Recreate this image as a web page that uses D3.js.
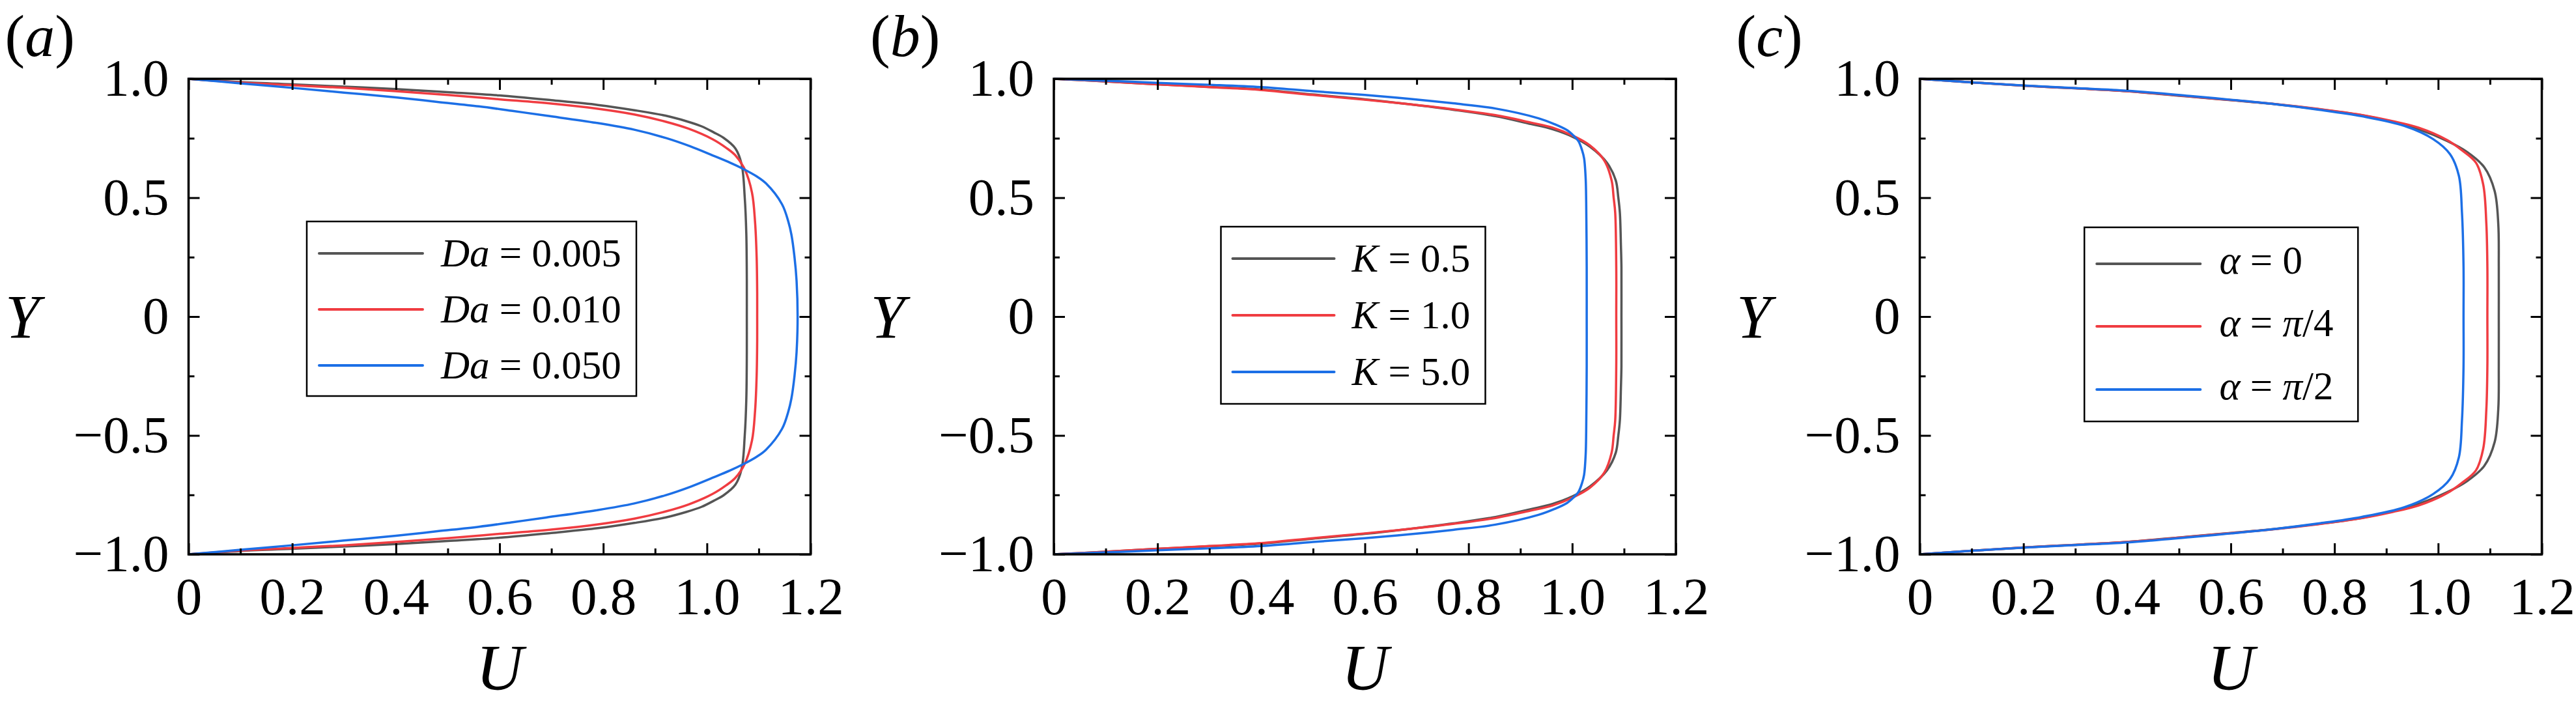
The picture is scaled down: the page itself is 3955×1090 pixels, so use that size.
<!DOCTYPE html>
<html>
<head>
<meta charset="utf-8">
<title>Velocity profiles</title>
<script src="https://d3js.org/d3.v7.min.js"></script>
<style>
  body { margin:0; background:#fff; }
  svg { display:block; }
  svg text { font-family:"Liberation Serif","Times New Roman",Times,serif; fill:#000; }
</style>
</head>
<body>
<div id="chart"></div>
<script>
// ---- data (U along the profile, Y from -1 to 1) ----
var xTicks = [0, 0.2, 0.4, 0.6, 0.8, 1.0, 1.2];
var xTickLabels = ["0", "0.2", "0.4", "0.6", "0.8", "1.0", "1.2"];
var xMinor = [0.1, 0.3, 0.5, 0.7, 0.9, 1.1];
var yTicks = [-1, -0.5, 0, 0.5, 1];
var yTickLabels = ["\u22121.0", "\u22120.5", "0", "0.5", "1.0"];
var yMinor = [-0.75, -0.25, 0.25, 0.75];

var seriesColors = ["#555555", "#f03c41", "#1c6fe6"];

// (a) Darcy number
var daLabels = ["0.005", "0.010", "0.050"];
var a005Y = [-1.000,-0.986,-0.977,-0.967,-0.957,-0.944,-0.930,-0.910,-0.890,-0.868,-0.845,-0.822,-0.800,-0.775,-0.752,-0.707,-0.640,-0.500,-0.350,-0.150,0,0.150,0.350,0.500,0.640,0.707,0.752,0.775,0.800,0.822,0.845,0.868,0.890,0.910,0.930,0.944,0.957,0.967,0.977,0.986,1.000];
var a005U = [0,0.100,0.200,0.300,0.400,0.500,0.600,0.700,0.790,0.860,0.920,0.960,0.990,1.013,1.032,1.055,1.067,1.073,1.076,1.077,1.077,1.077,1.076,1.073,1.067,1.055,1.032,1.013,0.990,0.960,0.920,0.860,0.790,0.700,0.600,0.500,0.400,0.300,0.200,0.100,0];
var a010Y = [-1.000,-0.984,-0.973,-0.962,-0.948,-0.932,-0.914,-0.896,-0.874,-0.850,-0.820,-0.790,-0.746,-0.710,-0.678,-0.619,-0.521,-0.394,-0.247,-0.100,0,0.100,0.247,0.394,0.521,0.619,0.678,0.710,0.746,0.790,0.820,0.850,0.874,0.896,0.914,0.932,0.948,0.962,0.973,0.984,1.000];
var a010U = [0,0.100,0.200,0.300,0.400,0.500,0.600,0.700,0.790,0.860,0.920,0.965,1.011,1.037,1.055,1.073,1.087,1.093,1.096,1.097,1.097,1.097,1.096,1.093,1.087,1.073,1.055,1.037,1.011,0.965,0.920,0.860,0.790,0.700,0.600,0.500,0.400,0.300,0.200,0.100,0];
var a050Y = [-1.000,-0.981,-0.962,-0.942,-0.922,-0.903,-0.884,-0.865,-0.845,-0.815,-0.786,-0.751,-0.716,-0.678,-0.647,-0.620,-0.591,-0.560,-0.472,-0.400,-0.345,-0.250,-0.150,0,0.150,0.250,0.345,0.400,0.472,0.560,0.591,0.620,0.647,0.678,0.716,0.751,0.786,0.815,0.845,0.865,0.884,0.903,0.922,0.942,0.962,0.981,1.000];
var a050U = [0,0.100,0.200,0.300,0.400,0.480,0.560,0.625,0.690,0.786,0.860,0.921,0.968,1.011,1.045,1.071,1.095,1.114,1.145,1.157,1.163,1.169,1.173,1.175,1.173,1.169,1.163,1.157,1.145,1.114,1.095,1.071,1.045,1.011,0.968,0.921,0.860,0.786,0.690,0.625,0.560,0.480,0.400,0.300,0.200,0.100,0];

// (b) K
var kLabels = ["0.5", "1.0", "5.0"];
var b05Y = [-1.000,-0.989,-0.977,-0.966,-0.955,-0.934,-0.914,-0.893,-0.870,-0.843,-0.810,-0.788,-0.756,-0.715,-0.647,-0.573,-0.500,-0.436,-0.300,-0.208,0,0.208,0.300,0.436,0.500,0.573,0.647,0.715,0.756,0.788,0.810,0.843,0.870,0.893,0.914,0.934,0.955,0.966,0.977,0.989,1.000];
var b05U = [0,0.100,0.200,0.300,0.400,0.500,0.600,0.686,0.770,0.852,0.920,0.962,1.001,1.034,1.067,1.084,1.089,1.092,1.094,1.095,1.095,1.095,1.094,1.092,1.089,1.084,1.067,1.034,1.001,0.962,0.920,0.852,0.770,0.686,0.600,0.500,0.400,0.300,0.200,0.100,0];
var b10Y = [-1.000,-0.989,-0.977,-0.965,-0.953,-0.932,-0.912,-0.893,-0.872,-0.847,-0.816,-0.795,-0.761,-0.720,-0.656,-0.573,-0.500,-0.436,-0.208,0,0.208,0.436,0.500,0.573,0.656,0.720,0.761,0.795,0.816,0.847,0.872,0.893,0.912,0.932,0.953,0.965,0.977,0.989,1.000];
var b10U = [0,0.100,0.200,0.300,0.400,0.500,0.600,0.686,0.770,0.852,0.920,0.962,1.001,1.034,1.062,1.076,1.080,1.083,1.085,1.085,1.085,1.083,1.080,1.076,1.062,1.034,1.001,0.962,0.920,0.852,0.770,0.686,0.600,0.500,0.400,0.300,0.200,0.100,0];
var b50Y = [-1.000,-0.992,-0.983,-0.975,-0.965,-0.948,-0.932,-0.916,-0.897,-0.875,-0.834,-0.810,-0.784,-0.760,-0.738,-0.700,-0.665,-0.580,-0.482,-0.208,0,0.208,0.482,0.580,0.665,0.700,0.738,0.760,0.784,0.810,0.834,0.875,0.897,0.916,0.932,0.948,0.965,0.975,0.983,0.992,1.000];
var b50U = [0,0.100,0.200,0.300,0.400,0.500,0.600,0.686,0.770,0.852,0.935,0.965,0.990,1.003,1.012,1.019,1.023,1.026,1.027,1.028,1.028,1.028,1.027,1.026,1.023,1.019,1.012,1.003,0.990,0.965,0.935,0.852,0.770,0.686,0.600,0.500,0.400,0.300,0.200,0.100,0];

// (c) alpha
var alphaLabels = ["0", "\u03c0/4", "\u03c0/2"];
var c0Y = [-1.000,-0.985,-0.971,-0.960,-0.948,-0.925,-0.910,-0.893,-0.872,-0.847,-0.820,-0.788,-0.738,-0.692,-0.628,-0.528,-0.391,-0.208,0,0.208,0.391,0.528,0.628,0.692,0.738,0.788,0.820,0.847,0.872,0.893,0.910,0.925,0.948,0.960,0.971,0.985,1.000];
var c0U = [0,0.100,0.200,0.300,0.400,0.520,0.600,0.686,0.770,0.852,0.910,0.962,1.018,1.056,1.089,1.109,1.116,1.117,1.117,1.117,1.116,1.109,1.089,1.056,1.018,0.962,0.910,0.852,0.770,0.686,0.600,0.520,0.400,0.300,0.200,0.100,0];
var c4Y = [-1.000,-0.985,-0.971,-0.960,-0.948,-0.926,-0.911,-0.894,-0.873,-0.848,-0.822,-0.795,-0.742,-0.701,-0.647,-0.555,-0.391,-0.208,0,0.208,0.391,0.555,0.647,0.701,0.742,0.795,0.822,0.848,0.873,0.894,0.911,0.926,0.948,0.960,0.971,0.985,1.000];
var c4U = [0,0.100,0.200,0.300,0.400,0.520,0.600,0.686,0.770,0.852,0.912,0.962,1.018,1.045,1.073,1.087,1.093,1.095,1.095,1.095,1.093,1.087,1.073,1.045,1.018,0.962,0.912,0.852,0.770,0.686,0.600,0.520,0.400,0.300,0.200,0.100,0];
var c2Y = [-1.000,-0.985,-0.972,-0.961,-0.950,-0.928,-0.912,-0.893,-0.870,-0.843,-0.802,-0.747,-0.683,-0.592,-0.436,-0.208,0,0.208,0.436,0.592,0.683,0.747,0.802,0.843,0.870,0.893,0.912,0.928,0.950,0.961,0.972,0.985,1.000];
var c2U = [0,0.100,0.200,0.300,0.400,0.520,0.600,0.686,0.770,0.852,0.935,0.990,1.023,1.040,1.046,1.049,1.049,1.049,1.046,1.040,1.023,0.990,0.935,0.852,0.770,0.686,0.600,0.520,0.400,0.300,0.200,0.100,0];

// ---- layout ----
var W = 3955, H = 1090;
var plotW = 955, plotTop = 121, plotBottom = 851;
var fontTick = 81, fontLegend = 61;
var serif = '"Liberation Serif","Times New Roman",Times,serif';

var panels = [
  { left: 289.5, tag: "a", sym: "Da", labels: daLabels,
    series: [[a005U, a005Y], [a010U, a010Y], [a050U, a050Y]],
    leg: { x0: 181.5, x1: 687.5, y0: 340, y1: 608, lx0: 200.5, lx1: 359.5, tx: 387.5, rows: [389, 475, 561], dy: 20 } },
  { left: 1618, tag: "b", sym: "K", labels: kLabels,
    series: [[b05U, b05Y], [b10U, b10Y], [b50U, b50Y]],
    leg: { x0: 256.5, x1: 662.5, y0: 348, y1: 620, lx0: 274.5, lx1: 430.5, tx: 457.5, rows: [397, 484, 571], dy: 20 } },
  { left: 2947.5, tag: "c", sym: "\u03b1", labels: alphaLabels,
    series: [[c0U, c0Y], [c4U, c4Y], [c2U, c2Y]],
    leg: { x0: 252.7, x1: 672.8, y0: 349, y1: 647, lx0: 271.7, lx1: 430.8, tx: 460, rows: [405, 501, 598], dy: 15 } }
];

var svg = d3.select("#chart").append("svg")
    .attr("width", W)
    .attr("height", H);

svg.append("rect").attr("width", W).attr("height", H).attr("fill", "#fff");

function styleAxis(sel, withText) {
  sel.attr("font-size", null).attr("font-family", null);
  sel.select(".domain").remove();
  sel.selectAll(".tick line").attr("stroke", "#000").attr("stroke-width", 3);
  if (withText) {
    sel.selectAll(".tick text")
       .attr("fill", "#000")
       .style("font-family", serif)
       .style("font-size", fontTick + "px");
  }
}

panels.forEach(function(p) {
  var L = p.left, R = L + plotW;
  var x = d3.scaleLinear().domain([0, 1.2]).range([L, R]);
  var y = d3.scaleLinear().domain([-1, 1]).range([plotBottom, plotTop]);
  var g = svg.append("g");

  // curves
  var line = d3.line()
      .x(function(d) { return x(d[0]); })
      .y(function(d) { return y(d[1]); })
      .curve(d3.curveCatmullRom.alpha(0.5));

  p.series.forEach(function(s, i) {
    var pts = s[0].map(function(u, k) { return [u, s[1][k]]; });
    g.append("path")
      .attr("d", line(pts))
      .attr("fill", "none")
      .attr("stroke", seriesColors[i])
      .attr("stroke-width", 3.5)
      .attr("stroke-linejoin", "round");
  });

  // axes, ticks pointing inward on all four sides
  g.append("g").attr("transform", "translate(0," + plotBottom + ")")
    .call(d3.axisBottom(x).tickValues(xTicks).tickSize(-17).tickPadding(34.5)
      .tickFormat(function(d, i) { return xTickLabels[i]; }))
    .call(styleAxis, true);
  g.append("g").attr("transform", "translate(0," + plotBottom + ")")
    .call(d3.axisBottom(x).tickValues(xMinor).tickSize(-9).tickFormat(""))
    .call(styleAxis, false);
  g.append("g").attr("transform", "translate(0," + plotTop + ")")
    .call(d3.axisTop(x).tickValues(xTicks).tickSize(-17).tickFormat(""))
    .call(styleAxis, false);
  g.append("g").attr("transform", "translate(0," + plotTop + ")")
    .call(d3.axisTop(x).tickValues(xMinor).tickSize(-9).tickFormat(""))
    .call(styleAxis, false);

  g.append("g").attr("transform", "translate(" + L + ",0)")
    .call(d3.axisLeft(y).tickValues(yTicks).tickSize(-17).tickPadding(30)
      .tickFormat(function(d, i) { return yTickLabels[i]; }))
    .call(styleAxis, true);
  g.append("g").attr("transform", "translate(" + L + ",0)")
    .call(d3.axisLeft(y).tickValues(yMinor).tickSize(-9).tickFormat(""))
    .call(styleAxis, false);
  g.append("g").attr("transform", "translate(" + R + ",0)")
    .call(d3.axisRight(y).tickValues(yTicks).tickSize(-17).tickFormat(""))
    .call(styleAxis, false);
  g.append("g").attr("transform", "translate(" + R + ",0)")
    .call(d3.axisRight(y).tickValues(yMinor).tickSize(-9).tickFormat(""))
    .call(styleAxis, false);

  // frame
  g.append("rect")
    .attr("x", L).attr("y", plotTop)
    .attr("width", plotW).attr("height", plotBottom - plotTop)
    .attr("fill", "none").attr("stroke", "#000").attr("stroke-width", 3.5);

  // panel tag
  var tag = g.append("text").attr("x", L - 282).attr("y", 86)
    .style("font-family", serif).style("font-size", "92px");
  tag.append("tspan").text("(");
  tag.append("tspan").attr("font-style", "italic").text(p.tag);
  tag.append("tspan").text(")");

  // axis titles
  g.append("text").attr("x", L - 255).attr("y", 519)
    .attr("text-anchor", "middle").attr("font-style", "italic")
    .style("font-family", serif).style("font-size", "95px").text("Y");
  g.append("text").attr("x", (L + R) / 2).attr("y", 1058)
    .attr("text-anchor", "middle").attr("font-style", "italic")
    .style("font-family", serif).style("font-size", "100px").text("U");

  // legend
  var lg = p.leg;
  g.append("rect")
    .attr("x", L + lg.x0).attr("y", lg.y0)
    .attr("width", lg.x1 - lg.x0).attr("height", lg.y1 - lg.y0)
    .attr("fill", "#fff").attr("stroke", "#000").attr("stroke-width", 2.5);
  p.labels.forEach(function(lab, i) {
    var ry = lg.rows[i];
    g.append("line")
      .attr("x1", L + lg.lx0).attr("x2", L + lg.lx1)
      .attr("y1", ry).attr("y2", ry)
      .attr("stroke", seriesColors[i]).attr("stroke-width", 4)
      .attr("stroke-linecap", "round");
    var t = g.append("text").attr("x", L + lg.tx).attr("y", ry + lg.dy)
      .style("font-family", serif).style("font-size", fontLegend + "px");
    t.append("tspan").attr("font-style", "italic").text(p.sym);
    t.append("tspan").text(" = ");
    lab.split(/(\u03c0)/).forEach(function(part) {
      if (!part) return;
      t.append("tspan").attr("font-style", part === "\u03c0" ? "italic" : null).text(part);
    });
  });
});
</script>
</body>
</html>
